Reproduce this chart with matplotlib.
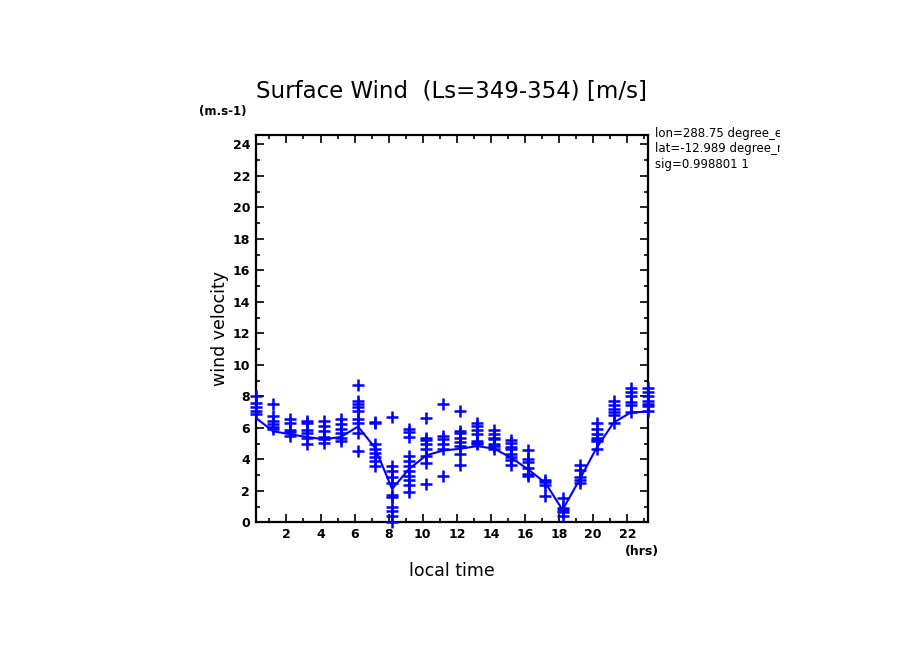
import matplotlib
matplotlib.use("Agg")
import matplotlib.pyplot as plt
from matplotlib.ticker import MultipleLocator
from matplotlib.transforms import Bbox

# local time (hrs) of each output
hours = [0.2 + k for k in range(24)]

# thin line: mean wind at each hour
mean_wind = [6.65, 5.8, 5.6, 5.43, 5.28, 5.43, 6.09, 4.74, 2.13, 3.4, 4.26, 4.57,
             4.68, 4.85, 4.68, 4.1, 3.36, 2.51, 0.8, 2.72, 4.74, 6.34, 6.98, 7.04]

# + markers: individual values at each hour
wind_pts = [
    [8.0, 7.6, 7.36, 7.09, 6.9],
    [7.5, 6.77, 6.45, 6.23, 6.09, 5.96],
    [6.6, 6.3, 5.9, 5.77, 5.5],
    [6.45, 6.34, 5.9, 5.66, 5.38, 4.96],
    [6.45, 6.13, 5.8, 5.43, 5.32, 5.02],
    [6.55, 6.23, 5.96, 5.7, 5.38, 5.17],
    [8.74, 7.72, 7.51, 7.3, 7.09, 6.55, 6.34, 5.7, 4.53],
    [6.38, 6.3, 4.96, 4.64, 4.43, 4.17, 3.89, 3.57],
    [6.7, 3.57, 3.26, 2.89, 2.51, 1.77, 1.62, 0.98, 0.7, 0.38, 0.06],
    [5.91, 5.74, 5.43, 4.21, 3.89, 3.57, 3.26, 2.98, 2.72, 2.4, 1.91],
    [6.66, 5.38, 5.23, 4.96, 4.64, 4.21, 3.79, 2.47],
    [7.55, 5.49, 5.28, 4.96, 4.64, 2.94],
    [7.09, 5.81, 5.66, 5.38, 5.11, 4.85, 4.32, 3.68],
    [6.34, 6.13, 5.87, 5.6, 5.17, 5.06, 4.96],
    [5.87, 5.6, 5.38, 5.28, 4.96, 4.85, 4.64],
    [5.23, 5.02, 4.81, 4.64, 4.32, 4.17, 3.96, 3.68],
    [4.6, 4.0, 3.83, 3.47, 3.1, 2.98],
    [2.68, 2.55, 2.4, 1.66],
    [1.55, 0.91, 0.81, 0.64, 0.38],
    [3.64, 3.36, 2.89, 2.72, 2.51],
    [6.3, 5.91, 5.6, 5.38, 5.23, 5.17, 4.64],
    [7.72, 7.45, 7.23, 7.02, 6.81, 6.3],
    [8.53, 8.26, 8.04, 7.62, 7.45, 7.02],
    [8.53, 8.26, 8.04, 7.72, 7.55, 7.4, 7.09],
]

xticks = [2, 4, 6, 8, 10, 12, 14, 16, 18, 20, 22]
yticks = [0, 2, 4, 6, 8, 10, 12, 14, 16, 18, 20, 22, 24]
info = ["lon=288.75 degree_east", "lat=-12.989 degree_north", "sig=0.998801 1"]

blue = "#0000ff"

fig = plt.figure(figsize=(9.04, 6.54), dpi=100)
ax = fig.add_axes([0.2829, 0.2011, 0.4336, 0.5925])

ax.plot(hours, mean_wind, color=blue, lw=1.5, zorder=2)
for h, vals in zip(hours, wind_pts):
    ax.plot([h] * len(vals), vals, linestyle="none", marker="+", color=blue,
            markersize=8, markeredgewidth=1.8, clip_on=False, zorder=3)

ax.set_xlim(hours[0], hours[-1])
ax.set_ylim(0, 24.6)
ax.set_xticks(xticks)
ax.set_yticks(yticks)
ax.xaxis.set_minor_locator(MultipleLocator(1))
ax.yaxis.set_minor_locator(MultipleLocator(1))
ax.tick_params(which="both", direction="in", top=True, right=True, width=1.2)
ax.tick_params(which="major", length=6, labelsize=9, pad=4)
ax.tick_params(which="minor", length=3)
for lab in ax.get_xticklabels() + ax.get_yticklabels():
    lab.set_fontweight("bold")
for s in ax.spines.values():
    s.set_linewidth(1.6)

ax.set_xlabel("local time", fontsize=12.5, labelpad=15)
ax.set_ylabel("wind velocity", fontsize=12.5, labelpad=3)

fig.text(0.5, 0.860, "Surface Wind  (Ls=349-354) [m/s]", fontsize=16.5,
         ha="center", va="center")
fig.text(0.246, 0.829, "(m.s-1)", fontsize=8.5, fontweight="bold",
         ha="center", va="center")
fig.text(0.7105, 0.157, "(hrs)", fontsize=9, fontweight="bold",
         ha="center", va="center")

clip = Bbox.from_extents(0, 0, 780, 654)
for i, line in enumerate(info):
    t = fig.text(0.7245, 0.796 - i * 0.0235, line, fontsize=8.5,
                 ha="left", va="center")
    t.set_clip_box(clip)
    t.set_clip_on(True)

fig.savefig("out.png", dpi=100)
